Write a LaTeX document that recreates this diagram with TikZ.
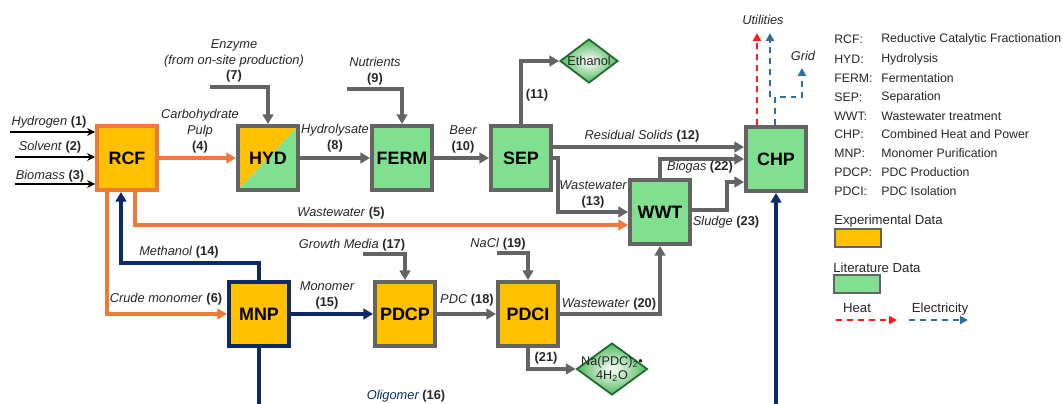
\documentclass[tikz,border=0pt]{standalone}
\usepackage{fontspec}
\setmainfont{Liberation Sans}
\usetikzlibrary{arrows.meta,shapes.geometric}
\definecolor{expfill}{HTML}{FFC000}
\definecolor{litfill}{HTML}{80E090}
\definecolor{boxgray}{HTML}{646464}
\definecolor{lineorange}{HTML}{EE7A3A}
\definecolor{navy}{HTML}{0B2A6E}
\definecolor{heatred}{HTML}{FF1A1A}
\definecolor{elecblue}{HTML}{2F7194}
\definecolor{txt}{HTML}{262626}
\definecolor{dgreen}{HTML}{1E6B32}
\newcommand\flowno[1]{\textup{\textbf{#1}}}
\begin{document}
\begin{tikzpicture}[x=0.02cm,y=-0.02cm,
  unit/.style={draw=boxgray, line width=2.2pt, minimum width=1.2cm, minimum height=1.28cm, inner sep=0pt, font=\fontsize{10.2}{12}\selectfont\bfseries},
  expbox/.style={unit, fill=expfill},
  litbox/.style={unit, fill=litfill},
  tipA/.style={-{Triangle[length=5.5pt,width=6pt]}},
  grayline/.style={draw=boxgray, line width=2.1pt, tipA},
  orangeline/.style={draw=lineorange, line width=2.1pt, tipA},
  navyline/.style={draw=navy, line width=2.1pt, tipA},
  inarrow/.style={draw=black, line width=0.9pt, -{Stealth[length=4.5pt,width=4.5pt]}},
  heatline/.style={draw=heatred, line width=1.2pt, dash pattern=on 3.4pt off 2.8pt, -{Triangle[length=4.5pt,width=4.5pt]}},
  elecline/.style={draw=elecblue, line width=1.2pt, dash pattern=on 3.4pt off 2.8pt, -{Triangle[length=4.5pt,width=4.5pt]}},
  lbl/.style={font=\fontsize{7.3}{9}\selectfont\itshape, text=txt, inner sep=0pt, align=center},
  leg/.style={font=\fontsize{7}{8.5}\selectfont, text=txt, inner sep=0pt, anchor=west},
  product/.style={diamond, draw=dgreen, line width=1pt, inner sep=0pt, inner color=white, outer color=litfill!80!green!80!black},
  legbox/.style={draw=boxgray, line width=0.9pt, minimum width=0.92cm, minimum height=0.36cm, inner sep=0pt},
]
\useasboundingbox (0,0) rectangle (1063,403);

% helper coordinates
\coordinate (y147) at (0,147);
\coordinate (y182) at (0,182);
\coordinate (y210) at (0,210);
\coordinate (y225) at (0,225);
\coordinate (y263) at (0,263);
\coordinate (y97) at (0,97);
\coordinate (yb) at (0,440);
\coordinate (x107) at (107,0);
\coordinate (x121) at (121,0);
\coordinate (x135) at (135,0);
\coordinate (x558) at (558,0);
\coordinate (x727) at (727,0);
\coordinate (x757) at (757,0);
\coordinate (x770) at (770,0);
\coordinate (x775) at (775,0);

% units
\node[expbox, draw=lineorange] (RCF) at (127,158) {RCF};
\node[unit, path picture={
  \fill[expfill] (path picture bounding box.north west) -- (path picture bounding box.north east) -- (path picture bounding box.south west) -- cycle;
  \fill[litfill] (path picture bounding box.north east) -- (path picture bounding box.south east) -- (path picture bounding box.south west) -- cycle;}] (HYD) at (268,158) {HYD};
\node[litbox] (FERM) at (402,158) {FERM};
\node[litbox] (SEP) at (521,158) {SEP};
\node[litbox] (WWT) at (660,212) {WWT};
\node[litbox] (CHP) at (776,159) {CHP};
\node[expbox, draw=navy] (MNP) at (259,314) {MNP};
\node[expbox] (PDCP) at (405,314) {PDCP};
\node[expbox] (PDCI) at (528,314) {PDCI};

% products
\node[product, minimum width=1.16cm, minimum height=0.88cm] (eth) at (589,61) {};
\node[font=\fontsize{7.3}{9}\selectfont, text=txt, inner sep=0pt] (ethtxt) at (eth) {Ethanol};
\node[product, minimum width=1.42cm, minimum height=1.04cm] (nap) at (612,369) {};
\node[font=\fontsize{7.2}{8.2}\selectfont, text=txt, inner sep=0pt, align=center] (naptxt) at (nap) {Na(PDC)\textsubscript{2}•\\4H\textsubscript{2}O};

% inputs
\coordinate (h1) at (10,132);
\coordinate (s2) at (15,157);
\coordinate (b3) at (15,184);
\draw[inarrow] (h1) -- (h1 -| RCF.west);
\draw[inarrow] (s2) -- (s2 -| RCF.west);
\draw[inarrow] (b3) -- (b3 -| RCF.west);
\coordinate (enz) at (210,87);
\coordinate (nut) at (347,89);
\coordinate (grow) at (363,254);
\coordinate (nacl) at (497,253);

% connectors
\draw[orangeline] (RCF.east) -- (HYD.west);
\draw[grayline] (enz) -| (HYD.north);
\draw[grayline] (HYD.east) -- (FERM.west);
\draw[grayline] (nut) -| (FERM.north);
\draw[grayline] (FERM.east) -- (SEP.west);
\draw[grayline] (SEP.north) |- (eth.west);
\draw[grayline] (SEP.east |- y147) -- (CHP.west |- y147);
\draw[grayline] (SEP.east) -- (x558 |- SEP.east) |- (WWT.west);
\draw[orangeline] (RCF.south -| x135) |- (WWT.west |- y225);
\draw[orangeline] (RCF.south -| x107) |- (MNP.west);
\draw[navyline] (MNP.north) -- (MNP.north |- y263) -| (RCF.south -| x121);
\draw[navyline] (MNP.east) -- (PDCP.west);
\begin{scope}
\clip (0,0) rectangle (1063,403);
\draw[navyline] (MNP.south) -- (MNP.south |- yb) -| (CHP.south);
\end{scope}
\draw[grayline] (grow) -| (PDCP.north);
\draw[grayline] (PDCP.east) -- (PDCI.west);
\draw[grayline] (nacl) -| (PDCI.north);
\draw[grayline] (PDCI.east) -| (WWT.south);
\draw[grayline] (PDCI.south) |- (nap.west);
\draw[grayline] (WWT.north) |- (CHP.west);
\draw[grayline] (WWT.east |- y210) -- (x727 |- y210) -- (x727 |- y182) -- (CHP.west |- y182);

% utilities
\coordinate (util1) at (757,33);
\coordinate (util2) at (770,33);
\coordinate (grid) at (802,68);
\draw[heatline] (CHP.north -| x757) -- (util1);
\draw[elecline] (CHP.north -| x775) -- (x775 |- y97) -| (grid);
\draw[elecline] (x770 |- y97) -- (util2);

% labels
\node[lbl] (lh) at (49,122) {Hydrogen \flowno{(1)}};
\node[lbl] (ls) at (50,147) {Solvent \flowno{(2)}};
\node[lbl] (lb) at (50,176) {Biomass \flowno{(3)}};
\node[lbl] (l4) at (200,131) {Carbohydrate\\Pulp\\\flowno{(4)}};
\node[lbl] (l7) at (234,61) {Enzyme\\(from on-site production)\\\flowno{(7)}};
\node[lbl] (l8) at (335,138) {Hydrolysate\\\flowno{(8)}};
\node[lbl] (l9) at (375,71.5) {Nutrients\\\flowno{(9)}};
\node[lbl] (l10) at (463,139.5) {Beer\\\flowno{(10)}};
\node[lbl] (l11) at (537,95) {\flowno{(11)}};
\node[lbl] (l12) at (642,136) {Residual Solids \flowno{(12)}};
\node[lbl] (l13) at (593,194.5) {Wastewater\\\flowno{(13)}};
\node[lbl] (l5) at (341,213) {Wastewater \flowno{(5)}};
\node[lbl] (l22) at (700,167) {Biogas \flowno{(22)}};
\node[lbl] (l23) at (726,222) {Sludge \flowno{(23)}};
\node[lbl] (l14) at (179,252) {Methanol \flowno{(14)}};
\node[lbl] (l6) at (166,299) {Crude monomer \flowno{(6)}};
\node[lbl] (l15) at (327,295.5) {Monomer\\\flowno{(15)}};
\node[lbl] (l17) at (352,245) {Growth Media \flowno{(17)}};
\node[lbl] (l16) at (406,396) {\textcolor{navy}{Oligomer} \flowno{(16)}};
\node[lbl] (l18) at (467,300) {PDC \flowno{(18)}};
\node[lbl] (l19) at (498,244) {NaCl \flowno{(19)}};
\node[lbl] (l20) at (609,304) {Wastewater \flowno{(20)}};
\node[lbl] (l21) at (546,358) {\flowno{(21)}};
\node[lbl] (lut) at (763,20) {Utilities};
\node[lbl] (lgrid) at (803,56) {Grid};

% legend
\foreach \ab/\de/\yy [count=\i] in {RCF:/Reductive Catalytic Fractionation/39, HYD:/Hydrolysis/59, FERM:/Fermentation/78, SEP:/Separation/97, WWT:/Wastewater treatment/116, CHP:/Combined Heat and Power/134, MNP:/Monomer Purification/153, PDCP:/PDC Production/172, PDCI:/PDC Isolation/191}{
  \node[leg] (ab\i) at (834,\yy) {\ab};
  \node[leg] (de\i) at (881,\yy) {\de};
}
\node[leg, font=\fontsize{7.5}{9}\selectfont] (lexp) at (834,221) {Experimental Data};
\node[legbox, fill=expfill] (bexp) at (858,238) {};
\node[leg, font=\fontsize{7.5}{9}\selectfont] (llit) at (833,268) {Literature Data};
\node[legbox, fill=litfill] (blit) at (857,284) {};
\node[leg, font=\fontsize{7.5}{9}\selectfont, anchor=center] (lheat) at (857,308) {Heat};
\node[leg, font=\fontsize{7.5}{9}\selectfont, anchor=center] (lelec) at (940,309) {Electricity};
\coordinate (hs) at (836,320);
\coordinate (he) at (897,320);
\coordinate (es) at (909,320);
\coordinate (ee) at (968,320);
\draw[heatline] (hs) -- (he);
\draw[elecline] (es) -- (ee);
\end{tikzpicture}
\end{document}
